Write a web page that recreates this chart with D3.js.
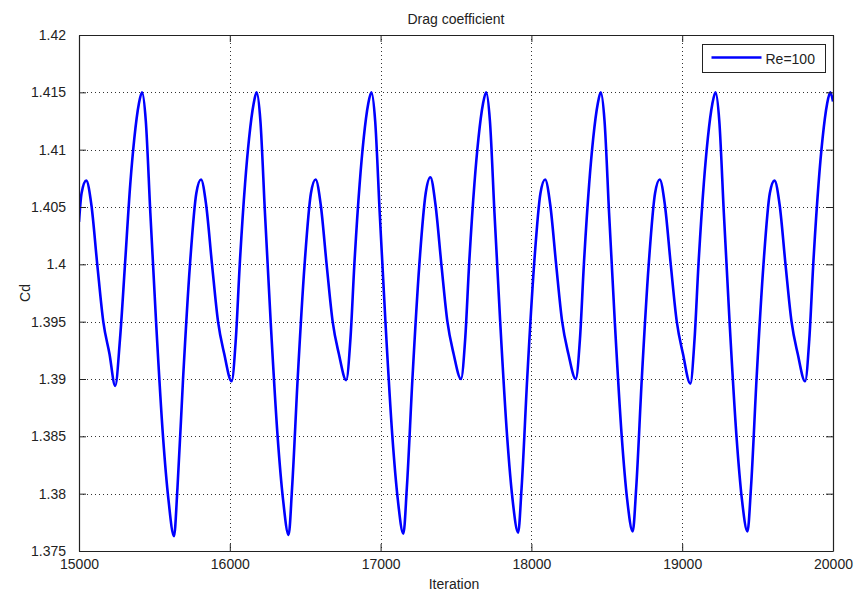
<!DOCTYPE html>
<html>
<head>
<meta charset="utf-8">
<script src="https://cdn.jsdelivr.net/npm/d3@7"></script>
<style>
  html, body { margin: 0; padding: 0; background: #fff; }
  svg { display: block; }
</style>
</head>
<body>
<div id="chart"></div>
<script>
// values, one line per shedding cycle
const iteration = [
  15000, 15017, 15048, 15082, 15121, 15161, 15202, 15240, 15272, 15305, 15340, 15367, 15397,
  15418, 15443, 15473, 15511, 15557, 15593, 15630, 15653, 15690, 15736, 15778, 15809, 15843, 15882, 15922, 15963, 16012, 16040, 16066, 16101, 16128, 16158,
  16178, 16203, 16233, 16271, 16317, 16353, 16390, 16413, 16450, 16496, 16538, 16569, 16603, 16642, 16682, 16723, 16772, 16800, 16826, 16861, 16888, 16918,
  16939, 16964, 16994, 17032, 17078, 17114, 17151, 17174, 17211, 17257, 17299, 17330, 17364, 17403, 17443, 17484, 17533, 17561, 17587, 17622, 17649, 17679,
  17700, 17725, 17755, 17793, 17839, 17875, 17912, 17935, 17972, 18018, 18060, 18091, 18125, 18164, 18204, 18245, 18294, 18322, 18348, 18383, 18410, 18440,
  18460, 18485, 18515, 18553, 18599, 18635, 18672, 18695, 18732, 18778, 18820, 18851, 18885, 18924, 18964, 19005, 19054, 19082, 19108, 19143, 19170, 19200,
  19221, 19246, 19276, 19314, 19360, 19396, 19433, 19456, 19493, 19539, 19581, 19612, 19646, 19685, 19725, 19766, 19815, 19843, 19869, 19904, 19931, 19961,
  19982, 20000
];
const cd = [
  1.4037, 1.4062, 1.4073, 1.4052, 1.4000, 1.3950, 1.3922, 1.3894, 1.3935, 1.4000, 1.4070, 1.4110, 1.4140,
  1.4150, 1.4125, 1.4045, 1.3950, 1.3850, 1.3795, 1.3763, 1.3805, 1.3900, 1.4000, 1.4062, 1.4074, 1.4052, 1.4000, 1.3950, 1.3922, 1.3898, 1.3935, 1.4000, 1.4070, 1.4110, 1.4140,
  1.4150, 1.4125, 1.4045, 1.3950, 1.3850, 1.3795, 1.3764, 1.3805, 1.3900, 1.4000, 1.4062, 1.4074, 1.4052, 1.4000, 1.3950, 1.3922, 1.3899, 1.3935, 1.4000, 1.4070, 1.4110, 1.4140,
  1.4150, 1.4125, 1.4045, 1.3950, 1.3850, 1.3795, 1.3765, 1.3805, 1.3900, 1.4000, 1.4062, 1.4076, 1.4052, 1.4000, 1.3950, 1.3922, 1.3900, 1.3935, 1.4000, 1.4070, 1.4110, 1.4140,
  1.4150, 1.4125, 1.4045, 1.3950, 1.3850, 1.3795, 1.3766, 1.3805, 1.3900, 1.4000, 1.4062, 1.4074, 1.4052, 1.4000, 1.3950, 1.3922, 1.3900, 1.3935, 1.4000, 1.4070, 1.4110, 1.4140,
  1.4150, 1.4125, 1.4045, 1.3950, 1.3850, 1.3795, 1.3767, 1.3805, 1.3900, 1.4000, 1.4062, 1.4074, 1.4052, 1.4000, 1.3950, 1.3922, 1.3896, 1.3935, 1.4000, 1.4070, 1.4110, 1.4140,
  1.4150, 1.4125, 1.4045, 1.3950, 1.3850, 1.3795, 1.3767, 1.3805, 1.3900, 1.4000, 1.4062, 1.4073, 1.4052, 1.4000, 1.3950, 1.3922, 1.3898, 1.3935, 1.4000, 1.4070, 1.4110, 1.4140,
  1.4150, 1.4142
];

const xTicks = [15000, 16000, 17000, 18000, 19000, 20000];
const xTickLabels = ['15000', '16000', '17000', '18000', '19000', '20000'];
const yTicks = [1.375, 1.38, 1.385, 1.39, 1.395, 1.4, 1.405, 1.41, 1.415, 1.42];
const yTickLabels = ['1.375', '1.38', '1.385', '1.39', '1.395', '1.4', '1.405', '1.41', '1.415', '1.42'];
const seriesName = 'Re=100';

const W = 857, H = 591;
const margin = { left: 79, right: 24, top: 35, bottom: 40 };
const FONT = '"Liberation Sans", Arial, Helvetica, sans-serif';
const TICK = 7;

const x = d3.scaleLinear().domain([15000, 20000]).range([margin.left, W - margin.right]);
const y = d3.scaleLinear().domain([1.375, 1.42]).range([H - margin.bottom, margin.top]);

const svg = d3.select('#chart')
  .append('svg')
  .attr('xmlns', 'http://www.w3.org/2000/svg')
  .attr('width', W)
  .attr('height', H)
  .attr('font-family', FONT)
  .attr('font-size', 14);

const x0 = x.range()[0], x1 = x.range()[1];
const y0 = y.range()[1], y1 = y.range()[0];

// grid
const grid = svg.append('g')
  .attr('stroke', '#333')
  .attr('stroke-width', 1)
  .attr('stroke-dasharray', '1,3');

grid.selectAll('.gx')
  .data(xTicks.slice(1, -1))
  .join('line')
  .attr('x1', d => Math.round(x(d)) + 0.5)
  .attr('x2', d => Math.round(x(d)) + 0.5)
  .attr('y1', y0)
  .attr('y2', y1);

grid.selectAll('.gy')
  .data(yTicks.slice(1, -1))
  .join('line')
  .attr('y1', d => Math.round(y(d)) + 0.5)
  .attr('y2', d => Math.round(y(d)) + 0.5)
  .attr('x1', x0)
  .attr('x2', x1);

// curve
svg.append('clipPath')
  .attr('id', 'plot-clip')
  .append('rect')
  .attr('x', x0)
  .attr('y', y0)
  .attr('width', x1 - x0)
  .attr('height', y1 - y0);

const points = iteration.map((it, i) => [it, cd[i]]);

svg.append('path')
  .datum(points)
  .attr('clip-path', 'url(#plot-clip)')
  .attr('fill', 'none')
  .attr('stroke', '#0000ff')
  .attr('stroke-width', 2.6)
  .attr('stroke-linejoin', 'round')
  .attr('d', d3.line()
    .x(d => x(d[0]))
    .y(d => y(d[1]))
    .curve(d3.curveMonotoneX));

// axes, MATLAB style: ticks pointing inward on all four sides
const axBottom = svg.append('g')
  .attr('transform', `translate(0,${y1})`)
  .call(d3.axisBottom(x).tickValues(xTicks).tickSize(-TICK).tickSizeOuter(0)
    .tickFormat((d, i) => xTickLabels[i]));
const axTop = svg.append('g')
  .attr('transform', `translate(0,${y0})`)
  .call(d3.axisTop(x).tickValues(xTicks).tickSize(-TICK).tickSizeOuter(0).tickFormat(''));
const axLeft = svg.append('g')
  .attr('transform', `translate(${x0},0)`)
  .call(d3.axisLeft(y).tickValues(yTicks).tickSize(-TICK).tickSizeOuter(0).tickPadding(TICK + 6)
    .tickFormat((d, i) => yTickLabels[i]));
const axRight = svg.append('g')
  .attr('transform', `translate(${x1},0)`)
  .call(d3.axisRight(y).tickValues(yTicks).tickSize(-TICK).tickSizeOuter(0).tickFormat(''));

[axBottom, axTop, axLeft, axRight].forEach(g => {
  g.attr('font-family', FONT).attr('font-size', 14);
  g.selectAll('.domain').attr('stroke', '#222').attr('stroke-width', 1.2);
  g.selectAll('.tick line').attr('stroke', '#222');
  g.selectAll('.tick text').attr('fill', '#222');
});
axBottom.selectAll('.tick text').attr('y', 8);

// labels
svg.append('text')
  .attr('x', (x0 + x1) / 2)
  .attr('y', 24)
  .attr('text-anchor', 'middle')
  .attr('fill', '#222')
  .text('Drag coefficient');

svg.append('text')
  .attr('x', (x0 + x1) / 2 - 2)
  .attr('y', 589)
  .attr('text-anchor', 'middle')
  .attr('fill', '#222')
  .text('Iteration');

svg.append('text')
  .attr('transform', `translate(30,${(y0 + y1) / 2}) rotate(-90)`)
  .attr('text-anchor', 'middle')
  .attr('fill', '#222')
  .text('Cd');

// legend
const legend = svg.append('g')
  .attr('transform', 'translate(702.5,44.5)');
legend.append('rect')
  .attr('width', 123)
  .attr('height', 28)
  .attr('fill', '#fff')
  .attr('stroke', '#222');
legend.append('line')
  .attr('x1', 9)
  .attr('x2', 59)
  .attr('y1', 13)
  .attr('y2', 13)
  .attr('stroke', '#0000ff')
  .attr('stroke-width', 2.6);
legend.append('text')
  .attr('x', 63)
  .attr('y', 19)
  .attr('fill', '#222')
  .text(seriesName);
</script>
</body>
</html>
